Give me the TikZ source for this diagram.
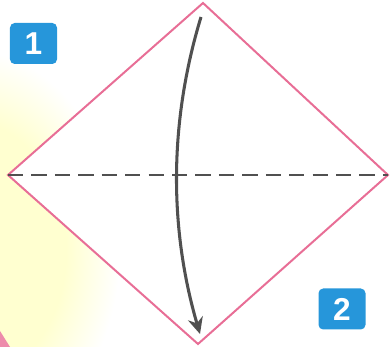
\documentclass[tikz,border=0pt]{standalone}
\usepackage{fontspec}
\setsansfont{Liberation Sans}
\usepackage{xcolor}
\usetikzlibrary{arrows.meta, positioning, calc}

\definecolor{foldpink}{RGB}{232,110,150}
\definecolor{badgeblue}{RGB}{38,150,218}
\definecolor{glowyellow}{RGB}{255,255,208}
\definecolor{arrowgray}{RGB}{80,80,80}

\pgfdeclareradialshading{glow}{\pgfpoint{0bp}{0bp}}{%
  color(0bp)=(glowyellow); color(16bp)=(glowyellow); color(25bp)=(white); color(50bp)=(white)}

\begin{document}
\begin{tikzpicture}[
    x=0.03cm, y=-0.03cm,
    font=\sffamily\bfseries,
    >=Stealth,
    edge/.style={draw=foldpink, line width=1.7pt, line join=miter},
    crease/.style={draw=arrowgray, line width=1.6pt, dash pattern=on 13pt off 7pt},
    foldarrow/.style={-{Stealth[length=14pt, width=13pt]}, draw=arrowgray, line width=2.6pt},
    badge/.style={rectangle, fill=badgeblue, text=white, rounded corners=4pt, minimum width=1.41cm, minimum height=1.23cm, inner sep=0pt, font=\sffamily\bfseries\fontsize{27}{27}\selectfont},
]
    \useasboundingbox (0,0) rectangle (390,347);

    % soft yellow glow on the left
    \begin{scope}
        \clip (0,0) rectangle (390,347);
        \shade[shading=glow] (-30,250) ellipse (150 and 200);
        \fill[foldpink!80] (0,331) -- (0,347) -- (10,347) -- cycle;
    \end{scope}

    % square paper turned on its corner
    \coordinate (top) at (203,3);
    \coordinate (left) at (8,175);
    \coordinate (right) at (388,175);
    \coordinate (bottom) at (198,344);
    \fill[white] (top) -- (right) -- (bottom) -- (left) -- cycle;
    \draw[edge] (top) -- (right) -- (bottom) -- (left) -- cycle;

    % valley fold line
    \draw[crease] (left) -- (right);

    % fold top corner down
    \coordinate (start) at (201,17);
    \coordinate (finish) at (200,334);
    \draw[foldarrow] (start) .. controls (169,122) and (169,228) .. (finish);

    % step numbers
    \node[badge] (one) at (33.5,43.5) {1};
    \node[badge] (two) at (342,309) {2};
\end{tikzpicture}
\end{document}
